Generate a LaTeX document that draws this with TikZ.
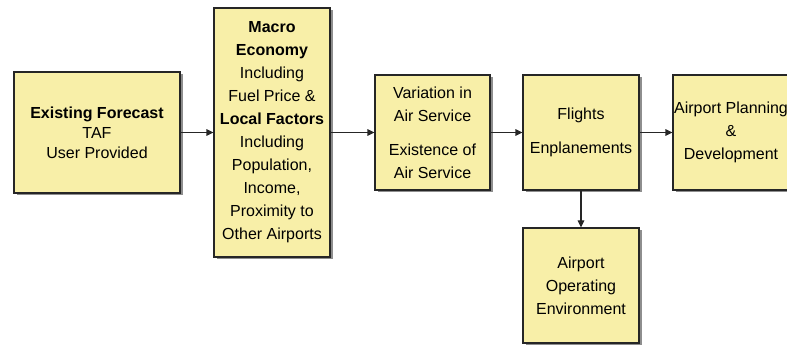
\documentclass[tikz,border=0pt]{standalone}
\usepackage{fontspec}
\setmainfont{Liberation Sans}
\usetikzlibrary{arrows.meta,shadows}
\definecolor{boxfill}{HTML}{F8EFA8}
\definecolor{boxshadow}{HTML}{8E8E8E}

\begin{document}
\begin{tikzpicture}[x=1pt,y=1pt,
    every node/.style={font=\fontsize{16}{23}\selectfont},
    stage/.style={draw=black!85,line width=1.1pt,fill=boxfill,align=center,inner sep=0pt,
      drop shadow={shadow xshift=2.5pt,shadow yshift=-2.5pt,fill=boxshadow,opacity=1}},
    flow/.style={-{Triangle[length=7pt,width=6.5pt]},line width=1.1pt,draw=black!85}]
  \useasboundingbox (0,0) rectangle (787,345);
  % boxes of the forecast chain
  \node[stage,minimum width=166pt,minimum height=121pt,font=\fontsize{16}{20}\selectfont] (forecast) at (97,212.5)
    {\textbf{Existing Forecast}\\TAF\\User Provided};
  \node[stage,minimum width=116pt,minimum height=249pt] (economy) at (272,212.5)
    {\textbf{Macro}\\\textbf{Economy}\\Including\\Fuel Price \&\\\textbf{Local Factors}\\Including\\Population,\\Income,\\Proximity to\\Other Airports};
  \node[stage,minimum width=115pt,minimum height=115pt] (service) at (432.5,212.5)
    {Variation in\\Air Service\\[11pt]Existence of\\Air Service};
  \node[stage,minimum width=116pt,minimum height=115pt] (flights) at (581,212.5)
    {Flights\\[11pt]Enplanements};
  \node[stage,minimum width=116pt,minimum height=115pt] (planning) at (731,212.5)
    {Airport Planning\\\&\\Development};
  \node[stage,minimum width=116pt,minimum height=115pt] (environment) at (581,59.5)
    {Airport\\Operating\\Environment};
  % connectors
  \foreach \a/\b in {forecast/economy,economy/service,service/flights,flights/planning,flights/environment} {
    \draw[flow] (\a) -- (\b);
  }
\end{tikzpicture}
\end{document}
